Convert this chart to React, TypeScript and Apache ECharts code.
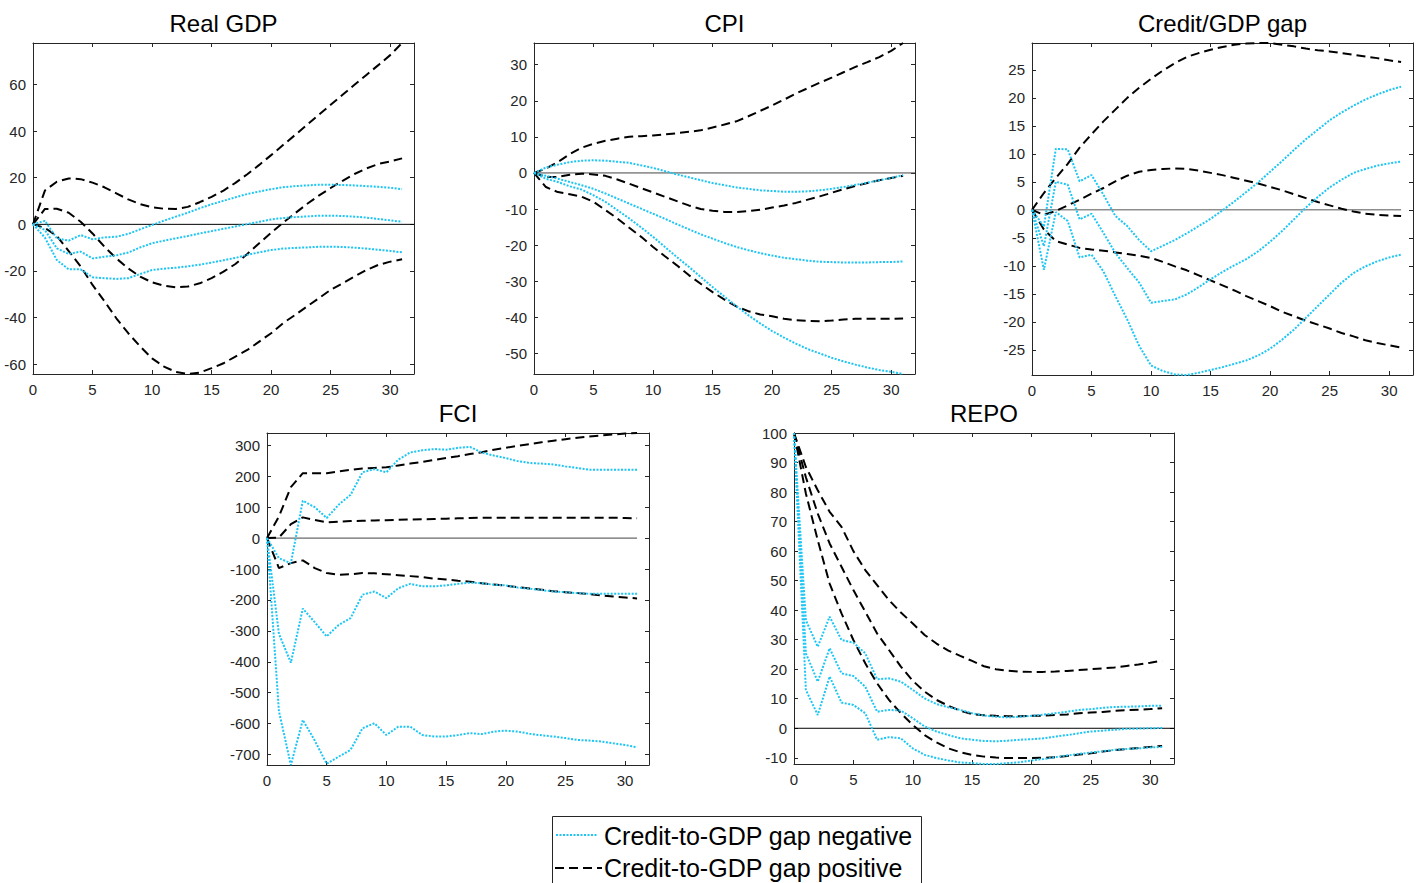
import React, { useEffect, useRef } from "react";
import * as echarts from "echarts";

// ---------- data ----------
const horizon = Array.from({ length: 32 }, (_, i) => i);
const xTicks = [0, 5, 10, 15, 20, 25, 30];

// Real GDP
const gdpNegHigh = [0, 1.5, -6, -7, -4.6, -6.4, -5.6, -5.3, -4.1, -2.1, -0.3, 1.6, 3.3, 5, 6.9, 8.6, 10.1, 11.6, 13, 14.1, 15.1, 15.9, 16.4, 16.7, 17, 17, 16.9, 16.7, 16.4, 16.1, 15.7, 15.1];
const gdpNegMid = [0, -2.4, -10.3, -12.7, -11.7, -14.6, -13.9, -13.3, -12.1, -9.9, -8.1, -7, -6, -5, -3.9, -2.9, -1.9, -0.9, 0.1, 1.1, 2.1, 2.7, 3.1, 3.4, 3.7, 3.7, 3.6, 3.3, 2.9, 2.3, 1.7, 1.1];
const gdpNegLow = [0, -5.7, -15.3, -19.3, -19.3, -22.7, -23.1, -23.4, -23.1, -21.3, -19.6, -19, -18.6, -18, -17.3, -16.4, -15.4, -14.4, -13.1, -12, -11, -10.4, -10.1, -9.9, -9.6, -9.6, -9.7, -10, -10.4, -10.9, -11.4, -12];
const gdpPosHigh = [0, 14.5, 18.3, 19.7, 19.4, 17.9, 15.9, 13.3, 10.7, 8.7, 7.3, 6.7, 6.6, 7.5, 9.5, 11.8, 14.5, 17.8, 21.5, 25.5, 29.7, 34, 38.3, 42.6, 47, 51.3, 55.6, 59.9, 64.1, 68.3, 72.6, 77.8];
const gdpPosMid = [0, 6.6, 6.7, 5, 1.1, -3.9, -9.6, -14.6, -18.9, -22.4, -24.9, -26.3, -27, -26.7, -25.3, -23.1, -20.3, -17, -12.7, -8.1, -3.6, 0.7, 4.7, 8.7, 12.3, 15.6, 18.7, 21.6, 24, 25.9, 27, 28.3];
const gdpPosLow = [0, -1.5, -5, -11.5, -18, -26, -33, -40.3, -46.7, -52.4, -57.5, -61, -63.3, -64.2, -63.6, -61.7, -59.6, -56.7, -53.9, -50.3, -46.7, -42.4, -38.9, -35.3, -31.7, -28.1, -25.3, -22.4, -19.6, -17.4, -16, -15];
const gdpTicks = [-60, -40, -20, 0, 20, 40, 60];

// CPI
const cpiNegHigh = [0, 1.5, 2.3, 3, 3.4, 3.5, 3.4, 3.1, 2.8, 2.1, 1.4, 0.5, -0.4, -1.2, -2, -2.8, -3.4, -4, -4.4, -4.8, -5, -5.2, -5.2, -5.1, -4.8, -4.4, -3.9, -3.3, -2.7, -2, -1.4, -0.6];
const cpiNegMid = [0, -0.8, -1.6, -2.5, -3.4, -4.4, -5.7, -7.1, -8.5, -9.9, -11.3, -12.7, -14.2, -15.6, -17, -18.2, -19.4, -20.5, -21.4, -22.2, -22.9, -23.5, -23.9, -24.3, -24.6, -24.7, -24.8, -24.8, -24.8, -24.7, -24.7, -24.5];
const cpiNegLow = [0, -1.6, -2.5, -3.7, -4.6, -6.2, -8, -10.3, -12.6, -15.1, -17.7, -20.5, -23.3, -26, -28.8, -31.6, -34.3, -36.9, -39.4, -41.7, -43.8, -45.6, -47.3, -48.8, -50, -51.2, -52.2, -53.1, -53.9, -54.6, -55.1, -55.7];
const cpiPosHigh = [0, 1.2, 3, 5.2, 7, 8.1, 8.9, 9.5, 10, 10.2, 10.4, 10.7, 11, 11.4, 11.8, 12.6, 13.4, 14.3, 15.7, 17.2, 18.7, 20.3, 22, 23.5, 25, 26.4, 27.9, 29.4, 30.7, 32.1, 33.8, 36];
const cpiPosMid = [0, -1.1, -1.1, -0.5, -0.2, -0.4, -0.8, -1.8, -3, -4.2, -5.4, -6.6, -7.8, -9, -10, -10.5, -10.8, -10.8, -10.6, -10.2, -9.6, -9, -8.3, -7.4, -6.5, -5.5, -4.5, -3.6, -2.8, -2, -1.4, -0.8];
const cpiPosLow = [0, -3.9, -5.3, -5.9, -6.6, -8, -10.3, -12.6, -15.2, -17.7, -20.5, -23.1, -25.6, -28.3, -30.7, -33, -35.1, -37, -38.3, -39.2, -39.7, -40.4, -40.8, -41, -41.1, -40.9, -40.6, -40.4, -40.4, -40.4, -40.4, -40.3];
const cpiTicks = [-50, -40, -30, -20, -10, 0, 10, 20, 30];

// Credit/GDP gap
const cgNegHigh = [0, -3, 10.9, 10.8, 5.1, 6.2, 2.7, -1.1, -2.9, -5.4, -7.4, -6.4, -5.4, -4.2, -2.9, -1.6, -0.1, 1.5, 3.2, 4.9, 6.8, 8.7, 10.7, 12.6, 14.3, 16, 17.4, 18.6, 19.7, 20.6, 21.4, 22];
const cgNegMid = [0, -6.5, 5, 4.5, -1.7, -0.7, -4.1, -7.7, -10.4, -13, -16.6, -16.3, -16, -15.1, -13.8, -12.4, -11.1, -9.9, -8.8, -7.4, -5.7, -3.8, -1.7, 0.4, 2.3, 4, 5.4, 6.6, 7.3, 7.9, 8.3, 8.6];
const cgNegLow = [0, -10.7, -0.4, -2, -8.5, -8, -11, -15.4, -19.6, -24.3, -27.8, -28.8, -29.4, -29.5, -29.1, -28.6, -28.1, -27.5, -26.9, -26, -24.8, -23.2, -21.4, -19.3, -17.2, -15.1, -13, -11.3, -10.1, -9.2, -8.5, -8];
const cgPosHigh = [0, 3, 5.7, 8.2, 11.1, 13.5, 15.8, 17.9, 20, 21.8, 23.4, 24.9, 26.2, 27.3, 28, 28.6, 29.1, 29.5, 29.7, 29.8, 29.8, 29.5, 29.2, 28.8, 28.5, 28.3, 28, 27.7, 27.4, 27.1, 26.7, 26.4];
const cgPosMid = [0, -0.9, -0.2, 0.8, 1.8, 2.9, 3.9, 5.1, 6.1, 6.8, 7.1, 7.3, 7.4, 7.3, 7, 6.6, 6.2, 5.7, 5.2, 4.7, 4.1, 3.5, 2.8, 2.1, 1.4, 0.8, 0.2, -0.3, -0.7, -0.9, -1, -1.1];
const cgPosLow = [0, -3.5, -5.6, -6.2, -6.8, -7.1, -7.3, -7.6, -7.9, -8.2, -8.6, -9.3, -10.1, -10.8, -11.7, -12.6, -13.5, -14.4, -15.4, -16.3, -17.2, -18.2, -19, -19.8, -20.5, -21.2, -22, -22.6, -23.3, -23.8, -24.2, -24.6];
const cgTicks = [-25, -20, -15, -10, -5, 0, 5, 10, 15, 20, 25];

// FCI
const fciNegHigh = [0, -65, -81, 121, 100, 65, 108, 140, 213, 223, 213, 254, 277, 284, 288, 286, 292, 295, 277, 267, 259, 249, 243, 241, 238, 232, 227, 221, 221, 221, 221, 221];
const fciNegMid = [0, -310, -403, -228, -272, -318, -281, -259, -183, -173, -194, -162, -148, -156, -156, -153, -148, -144, -146, -151, -153, -160, -164, -168, -173, -175, -178, -180, -180, -180, -180, -180];
const fciNegLow = [0, -560, -734, -588, -655, -730, -707, -685, -615, -599, -637, -610, -610, -637, -642, -642, -637, -631, -634, -626, -623, -626, -633, -638, -642, -647, -653, -655, -658, -664, -669, -677];
const fciPosHigh = [0, 70, 165, 210, 210, 210, 216, 221, 225, 227, 229, 235, 241, 246, 253, 259, 265, 272, 278, 286, 292, 299, 304, 310, 315, 320, 325, 329, 332, 335, 338, 340];
const fciPosMid = [0, 2, 45, 67, 59, 51, 53, 55, 56, 57, 58, 59, 60, 61, 62, 63, 64, 65, 66, 66, 66, 66, 66, 66, 66, 66, 66, 66, 66, 66, 65, 64];
const fciPosLow = [0, -97, -81, -72, -97, -113, -119, -117, -113, -114, -117, -120, -123, -126, -131, -134, -138, -141, -146, -150, -154, -159, -163, -167, -172, -175, -178, -181, -185, -189, -192, -195];
const fciTicks = [-700, -600, -500, -400, -300, -200, -100, 0, 100, 200, 300];

// REPO
const repoNegHigh = [100, 36.6, 27.6, 37.8, 29.9, 29, 25.4, 16.6, 16.9, 15.8, 13, 10.1, 8.2, 7.1, 6.2, 5.1, 4.3, 3.9, 3.7, 3.9, 4.2, 4.6, 5.1, 5.6, 6.2, 6.5, 6.9, 7.2, 7.3, 7.4, 7.6, 7.6];
const repoNegMid = [100, 25.4, 15.8, 27.1, 18.6, 17.7, 14.1, 5.6, 6.2, 6, 3.4, 0.6, -1.1, -2.3, -3.4, -3.9, -4.3, -4.4, -4.2, -3.9, -3.7, -3.4, -2.8, -2.3, -1.7, -1.1, -0.8, -0.5, -0.2, -0.1, 0, 0.1];
const repoNegLow = [100, 13, 4.5, 17.5, 8.7, 7.9, 5.1, -3.9, -3, -3.4, -6.8, -9, -10.1, -10.9, -11.6, -11.8, -12.1, -12.1, -11.8, -11.5, -10.9, -10.4, -9.8, -9.2, -8.7, -8.2, -7.8, -7.3, -7, -6.8, -6.5, -6.3];
const repoPosHigh = [100, 88.5, 80.6, 73.3, 68.2, 60, 53.6, 48.5, 43.4, 39.2, 35.5, 31.6, 28.7, 26.3, 24.5, 22.8, 21, 20, 19.5, 19.2, 19.1, 19.1, 19.2, 19.4, 19.7, 20, 20.3, 20.6, 21.1, 21.6, 22.2, 22.9];
const repoPosMid = [100, 85, 72.7, 62.6, 54.7, 46.8, 39.5, 32.1, 26.5, 20.9, 16.1, 12.4, 9.6, 7.6, 5.9, 4.8, 4.4, 4.2, 4.1, 4.1, 4.2, 4.3, 4.5, 4.7, 5.1, 5.3, 5.5, 5.9, 6.1, 6.3, 6.5, 6.8];
const repoPosLow = [100, 79.5, 63.7, 49, 38.9, 29.9, 22, 15.2, 9.6, 5.1, 1.1, -2.3, -4.8, -6.8, -8.1, -9, -9.6, -9.9, -10.1, -10.1, -10.1, -10, -9.8, -9.4, -8.9, -8.5, -7.9, -7.4, -7, -6.7, -6.3, -6];
const repoTicks = [-10, 0, 10, 20, 30, 40, 50, 60, 70, 80, 90, 100];

const titles = ["Real GDP", "CPI", "Credit/GDP gap", "FCI", "REPO"];
const legendLabels = ["Credit-to-GDP gap negative", "Credit-to-GDP gap positive"];

// ---------- layout / style ----------
const FONT = "'Liberation Sans', Arial, Helvetica, sans-serif";
const AXIS = "#262626";
const CYAN = "#1cc6f4";

const panels = [
  { title: titles[0], neg: [gdpNegHigh, gdpNegMid, gdpNegLow], pos: [gdpPosHigh, gdpPosMid, gdpPosLow], ticks: gdpTicks, box: [33, 43, 381, 331], zeroEnd: 32, zeroColor: "#000" },
  { title: titles[1], neg: [cpiNegHigh, cpiNegMid, cpiNegLow], pos: [cpiPosHigh, cpiPosMid, cpiPosLow], ticks: cpiTicks, box: [534, 43, 381, 331], zeroEnd: 32, zeroColor: "#444" },
  { title: titles[2], neg: [cgNegHigh, cgNegMid, cgNegLow], pos: [cgPosHigh, cgPosMid, cgPosLow], ticks: cgTicks, box: [1032, 43, 381, 332], zeroEnd: 31, zeroColor: "#555" },
  { title: titles[3], neg: [fciNegHigh, fciNegMid, fciNegLow], pos: [fciPosHigh, fciPosMid, fciPosLow], ticks: fciTicks, box: [267, 433, 382, 332], zeroEnd: 31, zeroColor: "#444" },
  { title: titles[4], neg: [repoNegHigh, repoNegMid, repoNegLow], pos: [repoPosHigh, repoPosMid, repoPosLow], ticks: repoTicks, box: [794, 433, 380, 331], zeroEnd: 32, zeroColor: "#000" },
];

function buildOption() {
  const grid: any[] = [];
  const xAxis: any[] = [];
  const yAxis: any[] = [];
  const series: any[] = [];
  const graphic: any[] = [];

  panels.forEach((p, i) => {
    const [left, top, width, height] = p.box;
    grid.push({ left, top, width, height, containLabel: false });
    const all = [...p.neg, ...p.pos].flat();
    const yMin = Math.min(...all);
    const yMax = Math.max(...all);

    const axisLine = { show: true, onZero: false, lineStyle: { color: AXIS, width: 1 } };
    const xBase = {
      type: "value", gridIndex: i, min: 0, max: 32, splitLine: { show: false }, axisLine,
      axisTick: { show: true, inside: true, length: 4, customValues: xTicks, lineStyle: { color: AXIS } },
    };
    xAxis.push({ ...xBase, position: "bottom", axisLabel: { show: true, customValues: xTicks, color: AXIS, fontSize: 15, fontFamily: FONT, margin: 8 } });
    xAxis.push({ ...xBase, position: "top", axisLabel: { show: false } });

    const yBase = {
      type: "value", gridIndex: i, min: yMin, max: yMax, splitLine: { show: false }, axisLine,
      axisTick: { show: true, inside: true, length: 4, customValues: p.ticks, lineStyle: { color: AXIS } },
    };
    yAxis.push({ ...yBase, position: "left", axisLabel: { show: true, customValues: p.ticks, color: AXIS, fontSize: 15, fontFamily: FONT, margin: 7 } });
    yAxis.push({ ...yBase, position: "right", axisLabel: { show: false } });

    const xi = 2 * i;
    const yi = 2 * i;
    series.push({
      type: "line", xAxisIndex: xi, yAxisIndex: yi, silent: true, showSymbol: false, symbol: "none",
      data: [[0, 0], [p.zeroEnd, 0]], lineStyle: { color: p.zeroColor, width: 1 }, z: 1,
    });
    p.pos.forEach((arr) => {
      series.push({
        type: "line", xAxisIndex: xi, yAxisIndex: yi, showSymbol: false, symbol: "none",
        data: horizon.map((t, k) => [t, arr[k]]),
        lineStyle: { color: "#000", width: 2, type: [9, 5] }, z: 2,
      });
    });
    p.neg.forEach((arr) => {
      series.push({
        type: "line", xAxisIndex: xi, yAxisIndex: yi, showSymbol: false, symbol: "none",
        data: horizon.map((t, k) => [t, arr[k]]),
        lineStyle: { color: CYAN, width: 2, type: [2, 1.5] }, z: 3,
      });
    });

    graphic.push({
      type: "text", x: left + width / 2, y: top - 20,
      style: { text: p.title, fontSize: 24, fontFamily: FONT, fill: "#000", align: "center", verticalAlign: "middle", textAlign: "center", textVerticalAlign: "middle" },
    });
  });

  // legend box
  graphic.push({ type: "rect", shape: { x: 552.5, y: 816.5, width: 369, height: 80 }, style: { fill: "#fff", stroke: AXIS, lineWidth: 1 } });
  graphic.push({ type: "line", shape: { x1: 556, y1: 835, x2: 598, y2: 835 }, style: { stroke: CYAN, lineWidth: 2, lineDash: [2, 1.5] } });
  graphic.push({ type: "line", shape: { x1: 555, y1: 868, x2: 602, y2: 868 }, style: { stroke: "#000", lineWidth: 2, lineDash: [9, 5] } });
  legendLabels.forEach((lab, k) => {
    graphic.push({
      type: "text", x: 604, y: k === 0 ? 836 : 868,
      style: { text: lab, fontSize: 25, fontFamily: FONT, fill: "#000", align: "left", verticalAlign: "middle", textAlign: "left", textVerticalAlign: "middle" },
    });
  });

  return { animation: false, backgroundColor: "#fff", grid, xAxis, yAxis, series, graphic };
}

export default function App() {
  const ref = useRef<HTMLDivElement>(null);
  useEffect(() => {
    if (!ref.current) return;
    const chart = echarts.init(ref.current, undefined, { renderer: "svg" });
    chart.setOption(buildOption() as any);
    return () => chart.dispose();
  }, []);
  return <div ref={ref} style={{ position: "fixed", left: 0, top: 0, width: 1423, height: 883, background: "#fff" }} />;
}
